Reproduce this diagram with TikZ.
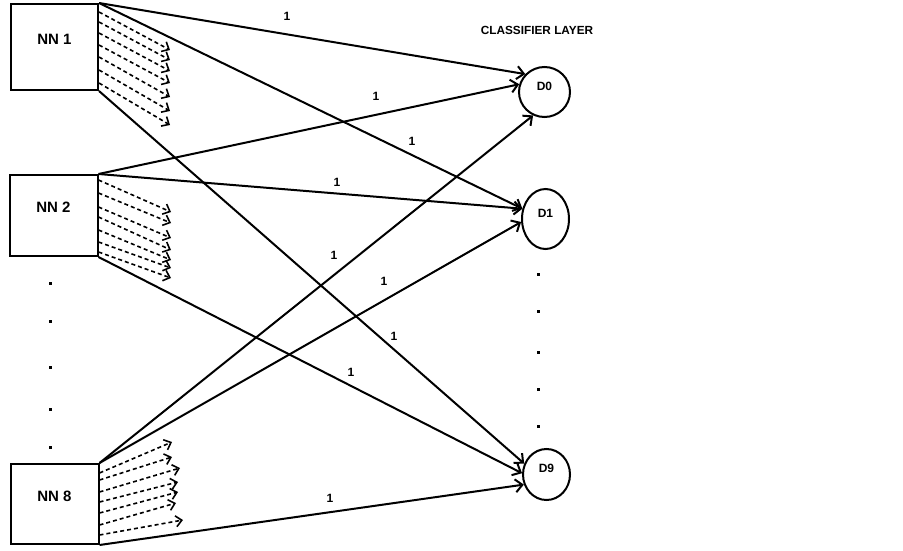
\documentclass[tikz,border=0pt]{standalone}
\usepackage{fontspec}
\setmainfont{Liberation Sans}
\usepackage{xcolor}
\usetikzlibrary{arrows.meta, positioning, calc, shapes.geometric}

\begin{document}
\begin{tikzpicture}[
		x=1pt, y=-1pt,
		netbox/.style={rectangle, draw=black, line width=2pt, minimum width=87pt, minimum height=84pt, text height=10.6pt, text depth=16pt, font=\bfseries\fontsize{15}{17}\selectfont},
		unit/.style={ellipse, draw=black, line width=2pt, inner sep=1pt, text height=8.6pt, text depth=12.5pt, font=\bfseries\fontsize{12}{14}\selectfont},
		weight/.style={inner sep=1pt, font=\bfseries\fontsize{12}{14}\selectfont},
		dot/.style={rectangle, fill=black, inner sep=0pt, minimum size=3pt},
		link/.style={-{Straight Barb[length=7pt, width=13pt]}, line width=2pt},
		fanout/.style={-{Straight Barb[length=6pt, width=11pt]}, line width=1.6pt, dash pattern=on 4pt off 3pt}
		]
		\useasboundingbox (0,0) rectangle (903,551);
		
		% Network boxes on the left
		\node[netbox, minimum height=86pt] (nn1) at (54.5,47) {NN 1};
		\node[netbox, minimum width=88pt, minimum height=81pt] (nn2) at (53.5,215.5) {NN 2};
		\node[netbox, minimum width=88pt, minimum height=80pt] (nn8) at (54.5,504) {NN 8};
		
		% Classifier units on the right
		\node[font=\bfseries\fontsize{11.8}{14}\selectfont] (title) at (537,30) {CLASSIFIER LAYER};
		\node[unit, minimum width=51pt, minimum height=50pt] (d0) at (544.5,92) {D0};
		\node[unit, minimum width=47pt, minimum height=60pt] (d1) at (545.5,219) {D1};
		\node[unit, minimum width=47pt, minimum height=51pt] (d9) at (546.5,474.5) {D9};
		
		% Vertical dots
		\foreach \y [count=\i] in {283,321,367,409,447}
			\node[dot] (ldot\i) at (50,\y) {};
		\foreach \y [count=\i] in {274,311,352,389,426}
			\node[dot] (rdot\i) at (538,\y) {};
		
		% Connections to the classifier layer
		\draw[link] (nn1.north east) -- (d0.137);
		\draw[link] (nn1.north east) -- (d1.156);
		\draw[link] (nn1.south east) -- (d9.154);
		\draw[link] (nn2.north east) -- (d0.163);
		\draw[link] (nn2.north east) -- (d1.156);
		\draw[link] (nn2.south east) -- (d9.177);
		\draw[link] (nn8.north east) -- (d0.244);
		\draw[link] (nn8.north east) -- (d1.187);
		\draw[link] (nn8.south east) -- (d9.204);
		
		% Weights
		\node[weight] (w1) at (287,16) {1};
		\node[weight] (w2) at (376,96) {1};
		\node[weight] (w3) at (412,141) {1};
		\node[weight] (w4) at (337,182) {1};
		\node[weight] (w5) at (334,255) {1};
		\node[weight] (w6) at (384,281) {1};
		\node[weight] (w7) at (394,336) {1};
		\node[weight] (w8) at (351,372) {1};
		\node[weight] (w9) at (330,498) {1};
		
		% Dashed outputs of each network
		\foreach \s/\ey in {9/50, 19/60, 30/71, 42/83, 54/97, 67/111, 80/125}
			\draw[fanout] ($(nn1.north east)+(0,\s)$) -- (170,\ey);
		\foreach \s/\ey in {6/212, 19/223, 33/238, 43/250, 56/260, 68/268, 78/278}
			\draw[fanout] ($(nn2.north east)+(0,\s)$) -- (171,\ey);
		\foreach \s/\ex/\ey in {10/172/442, 17/172/457, 29/180/468, 39/178/482, 50/178/492, 62/176/503, 72/183/520}
			\draw[fanout] ($(nn8.north east)+(0,\s)$) -- (\ex,\ey);
		
	\end{tikzpicture}
\end{document}
